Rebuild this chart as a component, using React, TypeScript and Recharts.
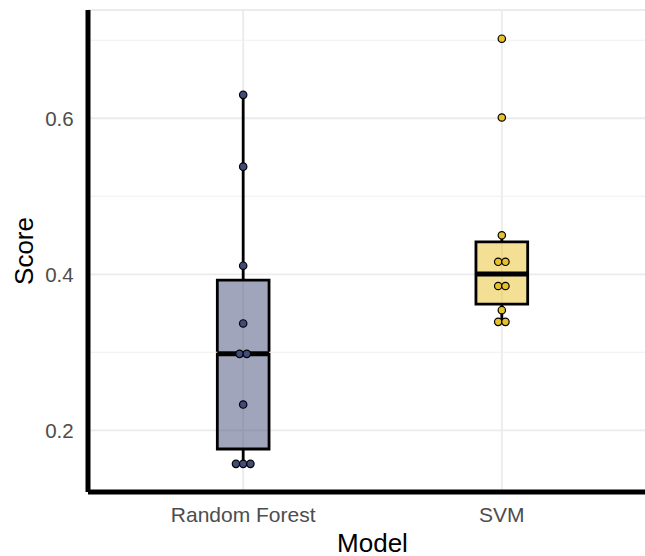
import React from 'react';
import {
  ComposedChart,
  Scatter,
  XAxis,
  YAxis,
  CartesianGrid,
  ReferenceArea,
  ReferenceLine,
  Label,
} from 'recharts';

const categories = ['Random Forest', 'SVM'];
const randomForestScores = [0.63, 0.538, 0.411, 0.337, 0.298, 0.298, 0.233, 0.157, 0.157, 0.157];
const svmScores = [0.702, 0.601, 0.45, 0.416, 0.416, 0.385, 0.385, 0.354, 0.339, 0.339];
const yTicks = [0.2, 0.4, 0.6];
const yMinorTicks = [0.3, 0.5, 0.7];
const seriesColors = ['#424C7A', '#E7C12B'];
const xTitle = 'Model';
const yTitle = 'Score';

const FONT = '"Liberation Sans", Arial, Helvetica, sans-serif';

function quantile(sorted: number[], p: number) {
  const pos = (sorted.length - 1) * p;
  const lo = Math.floor(pos);
  const hi = Math.ceil(pos);
  return sorted[lo] + (sorted[hi] - sorted[lo]) * (pos - lo);
}

function boxStats(values: number[]) {
  const s = [...values].sort((a, b) => a - b);
  const q1 = quantile(s, 0.25);
  const med = quantile(s, 0.5);
  const q3 = quantile(s, 0.75);
  const iqr = q3 - q1;
  const lo = Math.min(...s.filter((v) => v >= q1 - 1.5 * iqr));
  const hi = Math.max(...s.filter((v) => v <= q3 + 1.5 * iqr));
  return { q1, med, q3, lo, hi };
}

// simple beeswarm: spread identical values side by side
function swarm(values: number[], center: number) {
  const groups: number[][] = [];
  values.forEach((v) => {
    const g = groups.find((gr) => Math.abs(gr[0] - v) < 0.004);
    if (g) g.push(v);
    else groups.push([v]);
  });
  const out: { x: number; y: number }[] = [];
  groups.forEach((g) => {
    g.forEach((v, i) => {
      out.push({ x: center + (i - (g.length - 1) / 2) * 0.028, y: v });
    });
  });
  return out;
}

const seriesValues = [randomForestScores, svmScores];
const pointSets = seriesValues.map((vals, i) => swarm(vals, i + 1));
const stats = seriesValues.map((vals) => boxStats(vals));

const HALF = 0.1;

export default function App() {
  return (
    <div
      style={{
        position: 'absolute',
        left: 0,
        top: 0,
        width: 645,
        height: 556,
        overflow: 'hidden',
        background: '#ffffff',
      }}
    >
      <ComposedChart
        width={680}
        height={580}
        margin={{ top: 10, right: 23, bottom: 0, left: 0 }}
        style={{ fontFamily: FONT }}
      >
        <CartesianGrid stroke="#ebebeb" strokeWidth={1.8} />
        {yMinorTicks.map((t) => (
          <ReferenceLine key={'m' + t} y={t} stroke="#efefef" strokeWidth={1.1} />
        ))}
        <XAxis
          type="number"
          dataKey="x"
          domain={[0.4, 2.6]}
          ticks={[1, 2]}
          allowDataOverflow
          height={88}
          interval={0}
          tickFormatter={(v: number) => categories[Math.round(v) - 1]}
          axisLine={{ stroke: '#000000', strokeWidth: 5 }}
          tickLine={false}
          tickSize={0}
          tickMargin={14.8}
          tick={{ fill: '#4d4d4d', fontSize: 21, fontFamily: FONT }}
        >
          <Label
            content={(props: any) => {
              const vb = props.viewBox || {};
              return (
                <text
                  x={vb.x + vb.width / 2}
                  y={vb.y + 60}
                  textAnchor="middle"
                  fill="#000000"
                  fontSize={26}
                  fontFamily={FONT}
                >
                  {xTitle}
                </text>
              );
            }}
          />
        </XAxis>
        <YAxis
          type="number"
          dataKey="y"
          domain={[0.1209, 0.7388]}
          ticks={yTicks}
          allowDataOverflow
          width={88}
          interval={0}
          tickFormatter={(v: number) => v.toFixed(1)}
          axisLine={{ stroke: '#000000', strokeWidth: 5 }}
          tickLine={false}
          tickSize={0}
          tickMargin={14.3}
          tick={{ fill: '#4d4d4d', fontSize: 20.5, fontFamily: FONT }}
        >
          <Label
            content={(props: any) => {
              const vb = props.viewBox || {};
              const cx = 33.3;
              const cy = vb.y + vb.height / 2;
              return (
                <text
                  x={cx}
                  y={cy}
                  transform={`rotate(-90, ${cx}, ${cy})`}
                  textAnchor="middle"
                  fill="#000000"
                  fontSize={26}
                  fontFamily={FONT}
                >
                  {yTitle}
                </text>
              );
            }}
          />
        </YAxis>
        {pointSets.map((pts, i) => (
          <Scatter
            key={'s' + i}
            data={pts}
            dataKey="y"
            isAnimationActive={false}
            shape={(p: any) => (
              <circle
                cx={p.cx}
                cy={p.cy}
                r={3.7}
                fill={seriesColors[i]}
                stroke="#000000"
                strokeWidth={1.2}
              />
            )}
          />
        ))}
        {stats.map((s, i) => (
          <ReferenceLine
            key={'wu' + i}
            segment={[
              { x: i + 1, y: s.q3 },
              { x: i + 1, y: s.hi },
            ]}
            stroke="#000000"
            strokeWidth={2.8}
          />
        ))}
        {stats.map((s, i) => (
          <ReferenceLine
            key={'wl' + i}
            segment={[
              { x: i + 1, y: s.q1 },
              { x: i + 1, y: s.lo },
            ]}
            stroke="#000000"
            strokeWidth={2.8}
          />
        ))}
        {stats.map((s, i) => (
          <ReferenceArea
            key={'b' + i}
            x1={i + 1 - HALF}
            x2={i + 1 + HALF}
            y1={s.q1}
            y2={s.q3}
            fill={seriesColors[i]}
            fillOpacity={0.5}
            stroke="#000000"
            strokeWidth={2.8}
            strokeOpacity={1}
          />
        ))}
        {stats.map((s, i) => (
          <ReferenceLine
            key={'md' + i}
            segment={[
              { x: i + 1 - HALF, y: s.med },
              { x: i + 1 + HALF, y: s.med },
            ]}
            stroke="#000000"
            strokeWidth={5}
          />
        ))}
      </ComposedChart>
    </div>
  );
}
